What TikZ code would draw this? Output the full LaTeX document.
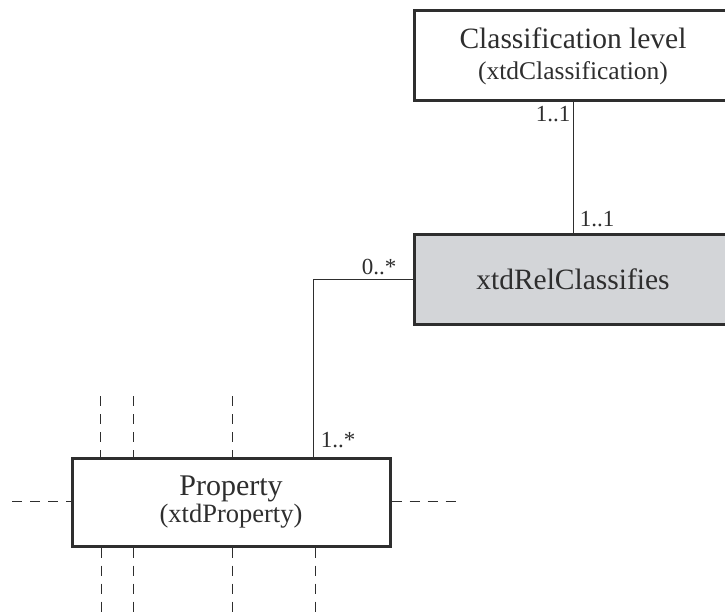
\documentclass[tikz,border=0pt]{standalone}
\usepackage{fontspec}
\setmainfont{Liberation Serif}
\definecolor{relgray}{HTML}{D3D5D8}
\definecolor{ink}{HTML}{2E2E2E}
\begin{document}
\begin{tikzpicture}[x=1pt,y=-1pt,
  entity/.style={draw=ink, line width=3pt, fill=white, minimum width=318pt, minimum height=90pt, inner sep=0pt, align=center, text=ink},
  conn/.style={draw=ink, line width=1pt},
  ext/.style={draw=ink, line width=1pt, dash pattern=on 10pt off 8pt},
  mult/.style={text=ink, font=\fontsize{23}{24}\selectfont, inner sep=0pt}]
\useasboundingbox (0,0) rectangle (725,612);
\clip (0,0) rectangle (725,612);
\node[entity, font=\fontsize{25.5}{31}\selectfont] (cls) at (573,56) {{\fontsize{29.5}{31}\selectfont Classification level}\\(xtdClassification)};
\node[entity, fill=relgray, font=\fontsize{29.5}{31}\selectfont] (rel) at (573,279.5) {xtdRelClassifies};
\node[entity, minimum height=88pt, font=\fontsize{26.5}{27}\selectfont] (prop) at (231,502) {{\fontsize{30}{27}\selectfont Property}\\(xtdProperty)};
% connectors
\draw[conn] (cls.south) -- (rel.north);
\draw[conn] (rel.west) -| ([xshift=82pt]prop.north);
% multiplicities
\node[mult] (m1) at (553,114) {1..1};
\node[mult] (m2) at (597,219) {1..1};
\node[mult] (m3) at (379,267) {0..*};
\node[mult] (m4) at (338,440) {1..*};
% extension stubs
\coordinate (a1) at (100,396);
\coordinate (a2) at (133,396);
\coordinate (a3) at (232,396);
\coordinate (b1) at (101,612);
\coordinate (b2) at (133,612);
\coordinate (b3) at (232,612);
\coordinate (b4) at (315,612);
\coordinate (l1) at (12,501);
\coordinate (r1) at (458,501);
\draw[ext] (a1) -- (a1 |- prop.north);
\draw[ext] (a2) -- (a2 |- prop.north);
\draw[ext] (a3) -- (a3 |- prop.north);
\draw[ext] (b1 |- prop.south) -- (b1);
\draw[ext] (b2 |- prop.south) -- (b2);
\draw[ext] (b3 |- prop.south) -- (b3);
\draw[ext] (b4 |- prop.south) -- (b4);
\draw[ext] (l1) -- (l1 -| prop.west);
\draw[ext] (prop.east |- r1) -- (r1);
\end{tikzpicture}
\end{document}
